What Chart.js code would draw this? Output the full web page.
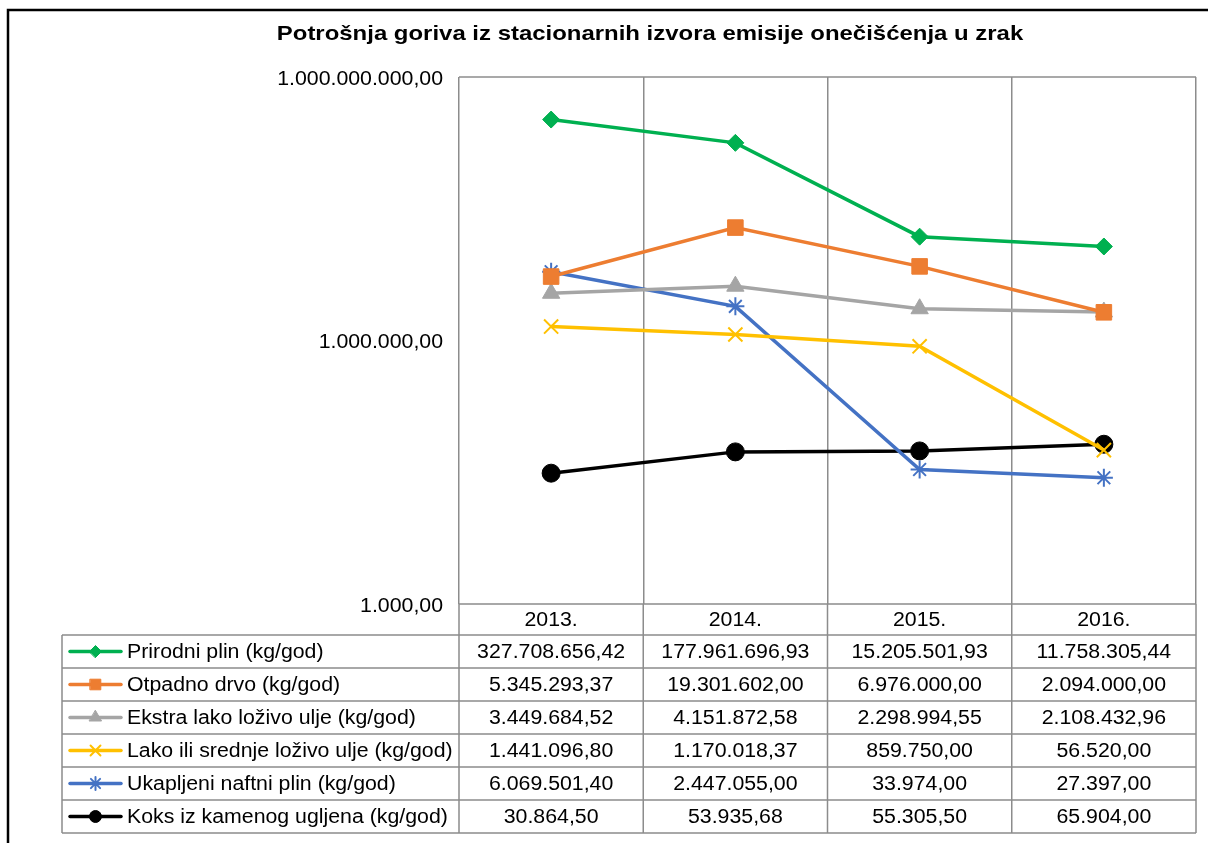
<!DOCTYPE html>
<html lang="hr">
<head>
<meta charset="UTF-8">
<title>Potrošnja goriva</title>
<script src="https://cdn.jsdelivr.net/npm/chart.js"></script>
<style>
  html, body { margin: 0; padding: 0; background: #fff; }
  canvas { display: block; }
</style>
</head>
<body>
<canvas id="chart" width="1208" height="843"></canvas>
<script>
// categories and series (kg/god)
const years = ['2013.', '2014.', '2015.', '2016.'];
const prirodniPlin = [327708656.42, 177961696.93, 15205501.93, 11758305.44];
const otpadnoDrvo = [5345293.37, 19301602.00, 6976000.00, 2094000.00];
const ekstraLako = [3449684.52, 4151872.58, 2298994.55, 2108432.96];
const lakoSrednje = [1441096.80, 1170018.37, 859750.00, 56520.00];
const ukapljeniPlin = [6069501.40, 2447055.00, 33974.00, 27397.00];
const koks = [30864.50, 53935.68, 55305.50, 65904.00];
const yTicks = [1e3, 1e6, 1e9];

const seriesNames = [
  'Prirodni plin (kg/god)',
  'Otpadno drvo (kg/god)',
  'Ekstra lako loživo ulje (kg/god)',
  'Lako ili srednje loživo ulje (kg/god)',
  'Ukapljeni naftni plin (kg/god)',
  'Koks iz kamenog ugljena (kg/god)'
];
const seriesData = [prirodniPlin, otpadnoDrvo, ekstraLako, lakoSrednje, ukapljeniPlin, koks];
const colors = ['#00B050', '#ED7D31', '#A5A5A5', '#FFC000', '#4472C4', '#000000'];
const styles = ['rectRot', 'rect', 'triangle', 'crossRot', 'star', 'circle'];
const radii = [8.5, 11, 10, 10, 9, 9];
const legendRadii = [6, 7.5, 7, 7, 6.5, 6];

const FONT = '"Liberation Sans", Arial, sans-serif';
const GRID = '#8c8c8c';
const TEXT_SX = 1.065;   // body text is a little wide
const TITLE_SX = 1.14;

function fmt(v) {
  const parts = v.toFixed(2).split('.');
  return parts[0].replace(/\B(?=(\d{3})+(?!\d))/g, '.') + ',' + parts[1];
}

function wideText(ctx, text, x, y, align, sx) {
  ctx.save();
  ctx.translate(x, y);
  ctx.scale(sx, 1);
  ctx.textAlign = align;
  ctx.fillText(text, 0, 0);
  ctx.restore();
}

function marker(ctx, style, r, x, y, color) {
  ctx.save();
  ctx.fillStyle = color;
  ctx.strokeStyle = color;
  const open = style === 'crossRot' || style === 'star';
  ctx.lineWidth = open ? 2 : 1;
  if (Chart.helpers && Chart.helpers.drawPoint) {
    Chart.helpers.drawPoint(ctx, { pointStyle: style, radius: r, rotation: 0, borderWidth: ctx.lineWidth }, x, y);
  } else {
    ctx.beginPath();
    ctx.arc(x, y, r * 0.8, 0, Math.PI * 2);
    ctx.fill();
  }
  ctx.restore();
}

// title, frame, y labels and the data table under the plot
const tablePlugin = {
  id: 'tablePlugin',
  afterDraw(chart) {
    const ctx = chart.ctx;
    const area = chart.chartArea;
    const xs = chart.scales.x;
    const ys = chart.scales.y;
    const step = xs.getPixelForValue(1) - xs.getPixelForValue(0);
    const tableLeft = 62;
    const headTop = area.bottom;
    const headH = 31;
    const rowH = 33;
    const rowsTop = headTop + headH;
    const tableBottom = rowsTop + rowH * seriesNames.length;

    ctx.save();
    // outer frame
    ctx.strokeStyle = '#000';
    ctx.lineWidth = 2.5;
    ctx.beginPath();
    ctx.moveTo(8, 843);
    ctx.lineTo(8, 10);
    ctx.lineTo(1208, 10);
    ctx.stroke();

    // title
    ctx.fillStyle = '#000';
    ctx.font = 'bold 21px ' + FONT;
    ctx.textBaseline = 'middle';
    wideText(ctx, 'Potrošnja goriva iz stacionarnih izvora emisije onečišćenja u zrak', 650, 34, 'center', TITLE_SX);

    // y axis labels
    ctx.font = '20px ' + FONT;
    yTicks.forEach(v => {
      wideText(ctx, fmt(v), area.left - 16, ys.getPixelForValue(v) + 2, 'right', TEXT_SX);
    });

    // plot top line
    ctx.strokeStyle = GRID;
    ctx.lineWidth = 1.5;
    ctx.beginPath();
    ctx.moveTo(area.left, area.top);
    ctx.lineTo(area.right, area.top);
    ctx.stroke();

    // table grid
    ctx.beginPath();
    ctx.moveTo(area.left, headTop);
    ctx.lineTo(area.right, headTop);
    for (let r = 0; r <= seriesNames.length; r++) {
      const y = rowsTop + r * rowH;
      ctx.moveTo(tableLeft, y);
      ctx.lineTo(area.right, y);
    }
    ctx.moveTo(tableLeft, rowsTop);
    ctx.lineTo(tableLeft, tableBottom);
    for (let i = 0; i <= years.length; i++) {
      const x = xs.getPixelForValue(0) - step / 2 + i * step;
      ctx.moveTo(x, headTop);
      ctx.lineTo(x, tableBottom);
    }
    ctx.stroke();

    // header and values
    ctx.fillStyle = '#000';
    years.forEach((y, i) => {
      wideText(ctx, y, xs.getPixelForValue(i), headTop + headH / 2 + 1, 'center', TEXT_SX);
    });
    seriesData.forEach((arr, r) => {
      const cy = rowsTop + r * rowH + rowH / 2 + 1;
      arr.forEach((v, i) => {
        wideText(ctx, fmt(v), xs.getPixelForValue(i), cy, 'center', TEXT_SX);
      });
    });

    // legend keys and names
    seriesNames.forEach((name, r) => {
      const cy = rowsTop + r * rowH + rowH / 2;
      ctx.strokeStyle = colors[r];
      ctx.lineWidth = 3.5;
      ctx.lineCap = 'round';
      ctx.beginPath();
      ctx.moveTo(70, cy);
      ctx.lineTo(121, cy);
      ctx.stroke();
      marker(ctx, styles[r], legendRadii[r], 95.5, cy, colors[r]);
      ctx.fillStyle = '#000';
      wideText(ctx, name, 127, cy + 1, 'left', TEXT_SX);
    });
    ctx.restore();
  }
};

const datasets = seriesNames.map((name, i) => ({
  label: name,
  data: seriesData[i],
  borderColor: colors[i],
  backgroundColor: colors[i],
  borderWidth: 3.5,
  pointStyle: styles[i],
  pointRadius: radii[i],
  pointBorderWidth: (styles[i] === 'crossRot' || styles[i] === 'star') ? 2 : 1,
  pointBorderColor: colors[i],
  pointBackgroundColor: colors[i],
  tension: 0
}));

new Chart(document.getElementById('chart'), {
  type: 'line',
  data: { labels: years, datasets: datasets },
  options: {
    responsive: false,
    animation: false,
    devicePixelRatio: 1,
    layout: { padding: { top: 77, left: 0, right: 10, bottom: 239 } },
    plugins: {
      legend: { display: false },
      title: { display: false },
      tooltip: { enabled: false }
    },
    scales: {
      x: {
        offset: true,
        grid: { color: GRID, lineWidth: 1.5, offset: true, drawTicks: false },
        border: { display: false },
        ticks: { display: false },
        afterFit(scale) { scale.height = 0; }
      },
      y: {
        type: 'logarithmic',
        min: 1e3,
        max: 1e9,
        grid: { display: false, drawTicks: false },
        border: { display: false },
        afterBuildTicks(scale) { scale.ticks = yTicks.map(v => ({ value: v })); },
        afterFit(scale) { scale.width = 459; },
        ticks: { display: false }
      }
    }
  },
  plugins: [tablePlugin]
});
</script>
</body>
</html>
